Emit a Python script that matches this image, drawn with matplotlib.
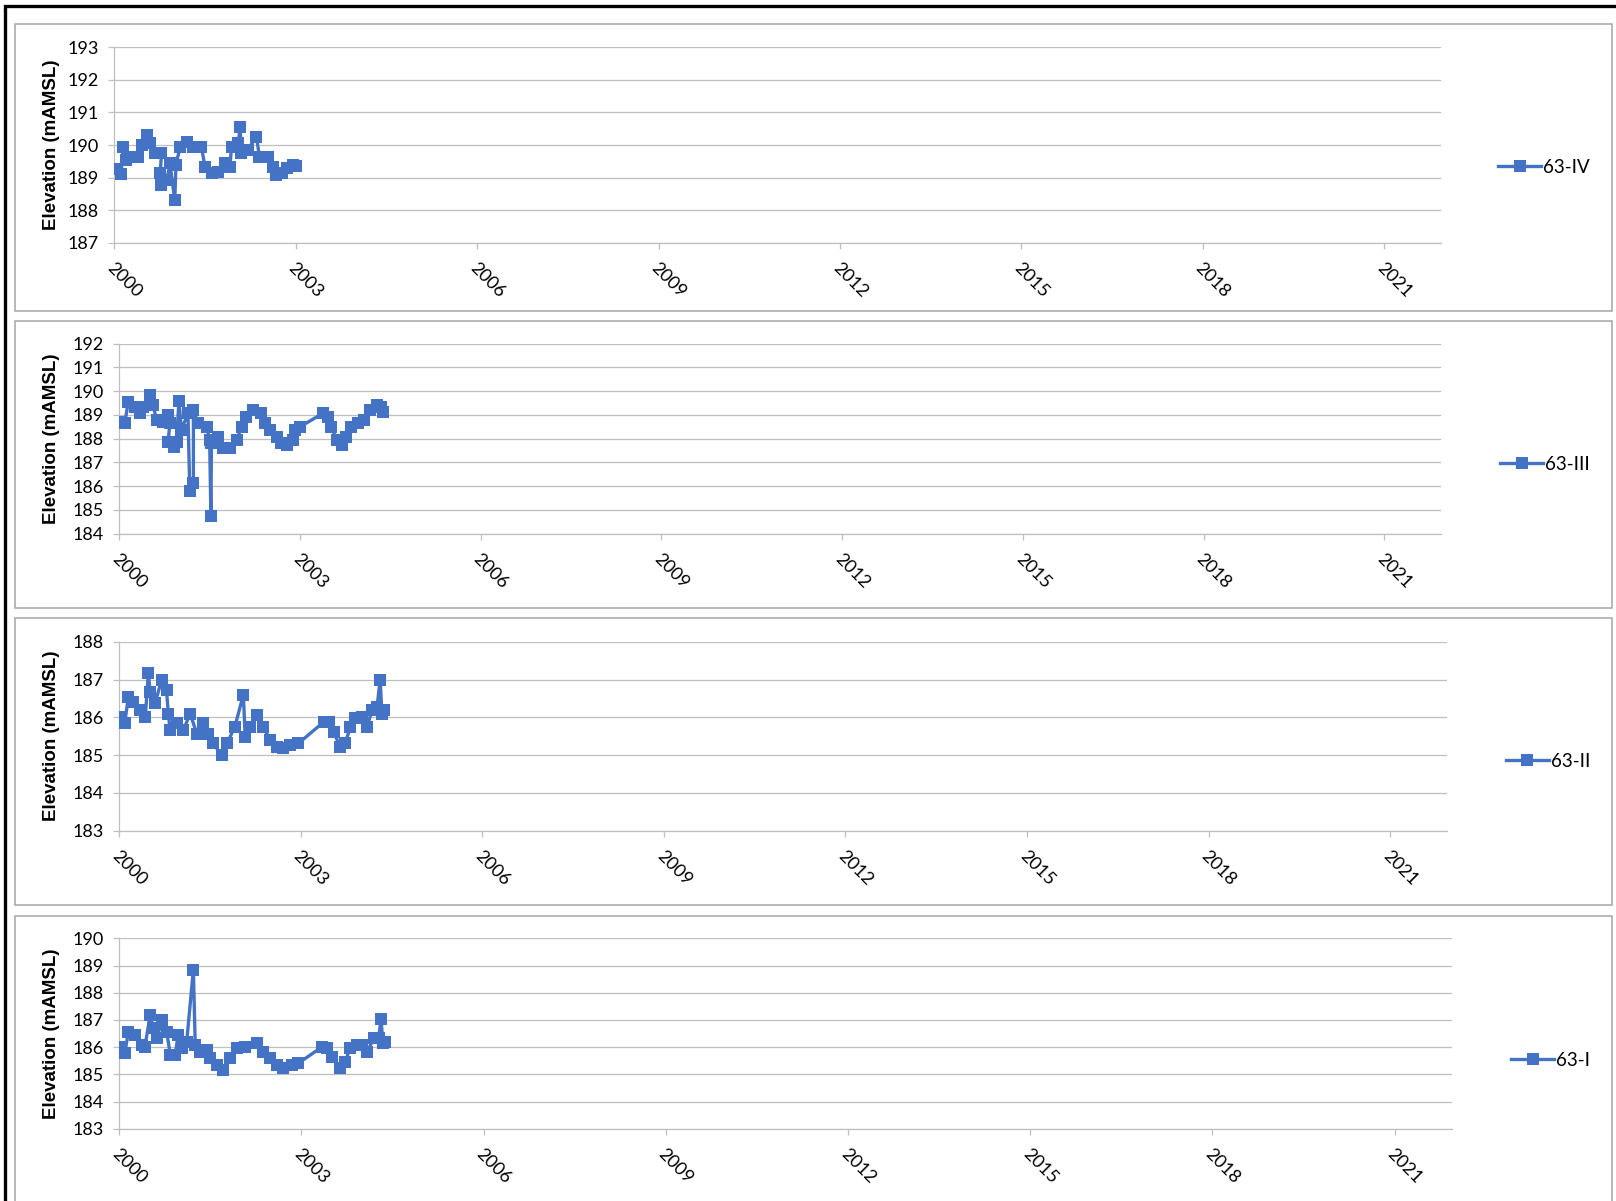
import matplotlib
matplotlib.use("Agg")
import matplotlib.pyplot as plt
from matplotlib.patches import Rectangle
from matplotlib.transforms import ScaledTranslation

plt.rcParams["font.family"] = ["Lato", "DejaVu Sans"]

W, H = 1616, 1201
BLUE = "#4472C4"
GRID = "#BFBFBF"

# --- data (decimal year, elevation mAMSL) ---
yr_iv = [2000.0, 2000.11, 2000.15, 2000.2, 2000.29, 2000.4, 2000.46, 2000.54, 2000.59,
         2000.67, 2000.78, 2000.76, 2000.78, 2000.87, 2000.92, 2001.0, 2001.02, 2001.09,
         2001.2, 2001.3, 2001.44, 2001.5, 2001.61, 2001.72, 2001.83, 2001.91, 2001.94,
         2002.05, 2002.08, 2002.1, 2002.21, 2002.35, 2002.4, 2002.55, 2002.63, 2002.68,
         2002.77, 2002.85, 2002.96, 2003.0]
el_iv = [189.25, 189.1, 189.95, 189.54, 189.64, 189.64, 190.0, 190.31, 190.05,
         189.75, 189.75, 189.13, 188.77, 188.93, 189.44, 188.3, 189.4, 189.95,
         190.1, 189.95, 189.95, 189.33, 189.13, 189.18, 189.44, 189.33, 189.95,
         190.05, 190.55, 189.75, 189.85, 190.26, 189.64, 189.64, 189.33, 189.08,
         189.13, 189.28, 189.39, 189.35]

yr_iii = [2000.0, 2000.09, 2000.15, 2000.26, 2000.34, 2000.4, 2000.51, 2000.56, 2000.62,
          2000.73, 2000.81, 2000.84, 2000.81, 2000.9, 2000.95, 2000.99, 2001.03, 2001.14,
          2001.17, 2001.23, 2001.23, 2001.31, 2001.45, 2001.5, 2001.52, 2001.53, 2001.64,
          2001.72, 2001.84, 2001.95, 2002.03, 2002.11, 2002.22, 2002.36, 2002.42, 2002.5,
          2002.61, 2002.69, 2002.78, 2002.89, 2002.91, 2003.0, 2003.38, 2003.47, 2003.52,
          2003.61, 2003.69, 2003.77, 2003.85, 2003.96, 2004.07, 2004.16, 2004.27, 2004.35,
          2004.38]
el_iii = [188.72, 188.65, 189.56, 189.35, 189.07, 189.35, 189.84, 189.42, 188.79,
          188.72, 189.0, 188.65, 187.87, 187.66, 187.87, 189.6, 188.37, 189.07,
          185.8, 186.12, 189.2, 188.65, 188.5, 187.95, 184.75, 187.8, 188.08,
          187.6, 187.6, 187.95, 188.5, 188.93, 189.2, 189.07, 188.65, 188.37,
          188.08, 187.8, 187.74, 187.95, 188.37, 188.5, 189.07, 188.93, 188.5,
          187.95, 187.74, 188.08, 188.5, 188.65, 188.79, 189.2, 189.42, 189.35,
          189.13]

yr_ii = [2000.0, 2000.09, 2000.15, 2000.23, 2000.34, 2000.43, 2000.48, 2000.51, 2000.59,
         2000.7, 2000.78, 2000.81, 2000.84, 2000.95, 2001.06, 2001.17, 2001.28, 2001.39,
         2001.47, 2001.55, 2001.69, 2001.78, 2001.91, 2002.05, 2002.08, 2002.16, 2002.27,
         2002.38, 2002.49, 2002.6, 2002.71, 2002.82, 2002.96, 2003.38, 2003.46, 2003.54,
         2003.65, 2003.73, 2003.82, 2003.9, 2004.01, 2004.09, 2004.18, 2004.26, 2004.31,
         2004.34, 2004.37]
el_ii = [186.02, 185.84, 186.55, 186.41, 186.19, 186.02, 187.16, 186.68, 186.37,
         186.99, 186.72, 186.1, 185.66, 185.84, 185.66, 186.1, 185.57, 185.84,
         185.57, 185.31, 185.0, 185.31, 185.75, 186.6, 185.49, 185.75, 186.06,
         185.75, 185.4, 185.22, 185.18, 185.27, 185.31, 185.88, 185.88, 185.62,
         185.22, 185.31, 185.75, 185.97, 186.02, 185.75, 186.19, 186.28, 187.0,
         186.1, 186.19]

yr_i = [2000.0, 2000.09, 2000.15, 2000.26, 2000.37, 2000.42, 2000.51, 2000.56, 2000.62,
        2000.7, 2000.78, 2000.84, 2000.92, 2000.97, 2001.03, 2001.11, 2001.22, 2001.25,
        2001.33, 2001.44, 2001.5, 2001.61, 2001.71, 2001.82, 2001.94, 2002.07, 2002.26,
        2002.37, 2002.48, 2002.59, 2002.7, 2002.84, 2002.95, 2003.34, 2003.42, 2003.5,
        2003.64, 2003.72, 2003.8, 2003.91, 2004.0, 2004.08, 2004.19, 2004.27, 2004.31,
        2004.34, 2004.38]
el_i = [186.01, 185.77, 186.57, 186.45, 186.08, 186.01, 187.18, 186.69, 186.32,
        187.0, 186.57, 185.71, 185.71, 186.45, 185.96, 186.2, 188.85, 186.08,
        185.83, 185.89, 185.59, 185.34, 185.16, 185.59, 185.96, 186.01, 186.14,
        185.83, 185.59, 185.34, 185.22, 185.34, 185.41, 186.01, 185.96, 185.65,
        185.22, 185.46, 185.96, 186.08, 186.08, 185.83, 186.32, 186.32, 187.05,
        186.14, 186.2]

wells = ["63-IV", "63-III", "63-II", "63-I"]
series = [(yr_iv, el_iv), (yr_iii, el_iii), (yr_ii, el_ii), (yr_i, el_i)]
y_ranges = [(187, 193), (184, 192), (183, 188), (183, 190)]
x_ticks = list(range(2000, 2022, 3))

# panel geometry in pixels: frame (top, bottom) and plot area (left, right, top, bottom)
frames = [(24, 311), (321, 608), (618, 905), (915.7, 1205)]
plots = [(114.3, 1441, 47.3, 242.7), (119.3, 1441, 343.7, 533.7),
         (119.3, 1447, 641.7, 830.7), (119.3, 1451.7, 938.3, 1128.7)]

fig = plt.figure(figsize=(W / 100, H / 100), dpi=100)

# outer black frame (top and left visible)
fig.add_artist(Rectangle((5 / W, -0.05), 1.2, 1 - 5.5 / H + 0.05, transform=fig.transFigure,
                         fill=False, edgecolor="black", lw=2.4, clip_on=False))

for i in range(4):
    ft, fb = frames[i]
    fig.add_artist(Rectangle((15 / W, 1 - fb / H), (1611.7 - 15) / W, (fb - ft) / H,
                             transform=fig.transFigure, fill=False,
                             edgecolor="#A6A6A6", lw=1.1))

    l, r, t, b = plots[i]
    ax = fig.add_axes([l / W, 1 - b / H, (r - l) / W, (b - t) / H])
    yrs, el = series[i]
    ax.plot(yrs, el, color=BLUE, lw=2.4, marker="s", markersize=9,
            markeredgewidth=0, label=wells[i], zorder=3)

    lo, hi = y_ranges[i]
    ax.set_ylim(lo, hi)
    ax.set_yticks(range(lo, hi + 1))
    ax.set_xlim(2000, 2021.94)
    ax.set_xticks(x_ticks)
    ax.set_xticklabels([str(x) for x in x_ticks])
    ax.grid(axis="y", color=GRID, lw=0.9, zorder=0)

    for s in ["top", "right"]:
        ax.spines[s].set_visible(False)
    ax.spines["left"].set_color(GRID)
    ax.spines["bottom"].set_color(GRID)
    ax.spines["left"].set_linewidth(0.9)
    ax.spines["bottom"].set_linewidth(0.9)

    ax.tick_params(axis="y", direction="out", length=4.3, width=0.9, color=GRID,
                   labelsize=13, labelcolor="black", pad=7)
    ax.tick_params(axis="x", direction="out", length=4.3, width=0.9, color=GRID,
                   labelsize=13, labelcolor="black", pad=8)
    for lab in ax.get_xticklabels():
        lab.set_rotation(-45)
        lab.set_ha("left")
        lab.set_va("top")
        lab.set_rotation_mode("anchor")
        lab.set_transform(lab.get_transform() + ScaledTranslation(0.01, 0, fig.dpi_scale_trans))

    fig.text(52 / W, 1 - (t + b) / 2 / H, "Elevation (mAMSL)", rotation=90,
             ha="center", va="center", fontsize=13.5, fontweight="bold",
             family=["Liberation Sans", "DejaVu Sans"])

    ax.legend(loc="center right", bbox_to_anchor=(1590 / W, 1 - (ft + fb) / 2 / H),
              bbox_transform=fig.transFigure, frameon=False, fontsize=13.5,
              handlelength=2.3, handletextpad=0.1, borderpad=0, borderaxespad=0)

fig.savefig("out.png", dpi=100)
